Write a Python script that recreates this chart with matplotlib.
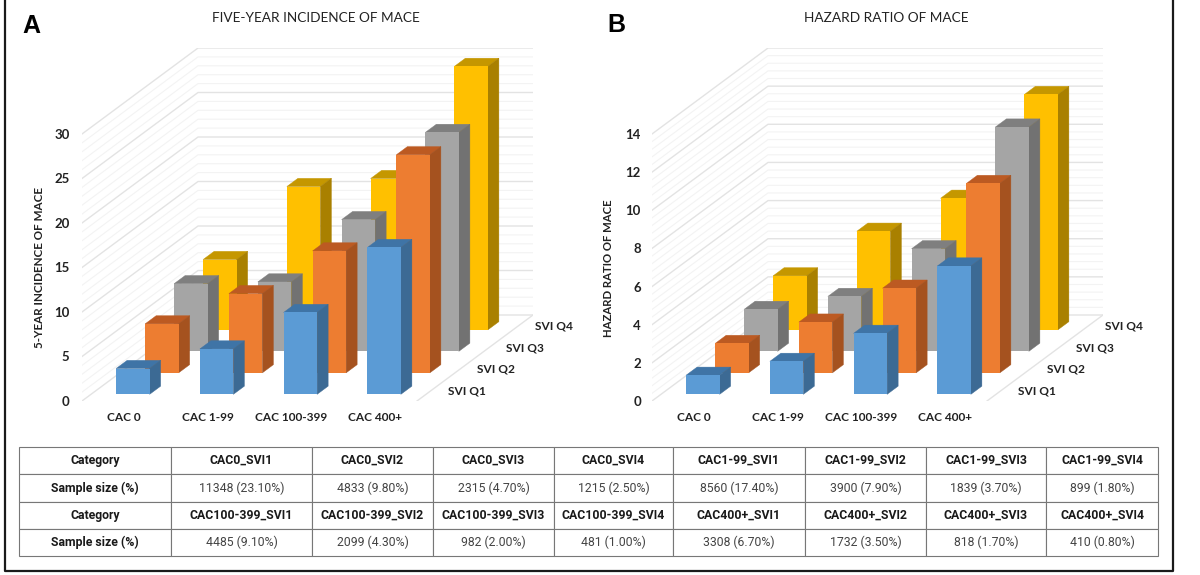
# -*- coding: utf-8 -*-
"""Two oblique 3D bar panels of MACE by CAC and SVI, with the sample size table below."""

import matplotlib
matplotlib.use('Agg')
import matplotlib.pyplot as plt

W, H = 1200, 575

plt.rcParams.update({
    'font.family': ['Lato', 'DejaVu Sans'],
    'font.size': 9,
    'figure.dpi': 100,
})

CATEGORIES = ['CAC 0', 'CAC 1-99', 'CAC 100-399', 'CAC 400+']
SERIES_NAMES = ['SVI Q1', 'SVI Q2', 'SVI Q3', 'SVI Q4']

# Panel A, 5-year incidence
INC_Q1 = [2.9, 5.1, 9.2, 16.5]
INC_Q2 = [5.5, 8.9, 13.7, 24.5]
INC_Q3 = [7.6, 7.8, 14.8, 24.6]
INC_Q4 = [7.9, 16.1, 17.0, 29.6]

# Panel B, hazard ratio
HR_Q1 = [1.0, 1.73, 3.2, 6.73]
HR_Q2 = [1.54, 2.66, 4.44, 9.93]
HR_Q3 = [2.2, 2.88, 5.38, 11.76]
HR_Q4 = [2.83, 5.17, 6.9, 12.34]

# Table rows
CATEGORY_ROW_1 = ['Category', 'CAC0_SVI1', 'CAC0_SVI2', 'CAC0_SVI3', 'CAC0_SVI4',
                  'CAC1-99_SVI1', 'CAC1-99_SVI2', 'CAC1-99_SVI3', 'CAC1-99_SVI4']
SAMPLE_ROW_1 = ['Sample size (%)', '11348 (23.10%)', '4833 (9.80%)', '2315 (4.70%)', '1215 (2.50%)',
                '8560 (17.40%)', '3900 (7.90%)', '1839 (3.70%)', '899 (1.80%)']
CATEGORY_ROW_2 = ['Category', 'CAC100-399_SVI1', 'CAC100-399_SVI2', 'CAC100-399_SVI3', 'CAC100-399_SVI4',
                  'CAC400+_SVI1', 'CAC400+_SVI2', 'CAC400+_SVI3', 'CAC400+_SVI4']
SAMPLE_ROW_2 = ['Sample size (%)', '4485 (9.10%)', '2099 (4.30%)', '982 (2.00%)', '481 (1.00%)',
                '3308 (6.70%)', '1732 (3.50%)', '818 (1.70%)', '410 (0.80%)']

# front, top, side colour per series
COLORS = [('#5B9BD5', '#3F74A6', '#3C6A94'),
          ('#ED7D31', '#BC5A22', '#A5521F'),
          ('#A5A5A5', '#7F7F7F', '#727272'),
          ('#FFC000', '#C59700', '#A98000')]

GRID_MAJOR = '#e3e3e3'
GRID_MINOR = '#f3f3f3'
TEXT = '#222222'

CAT_PX = 83.75      # one category, pixels
DEPTH_X_PX = 29.0   # one series of depth, pixels
DEPTH_Y_PX = 21.5
BAR_W = 0.40


def px_axes(fig, x0, y0, x1, y1):
    return fig.add_axes([x0 / W, 1 - y1 / H, (x1 - x0) / W, (y1 - y0) / H])


def draw_panel(fig, left_px, series, ymax, major, minor, ylabel, label_x, tick_pad, label_size):
    px_per_val = (401 - 134) / ymax
    dx = DEPTH_X_PX / CAT_PX
    dy = DEPTH_Y_PX / px_per_val
    n_cat = len(CATEGORIES)
    n_ser = len(series)
    x_front, x_right = -0.5, n_cat - 0.5

    ax = px_axes(fig, left_px, 401 - (ymax + n_ser * dy) * px_per_val,
                 left_px + (n_cat + n_ser * dx) * CAT_PX, 401)
    ax.set_xlim(x_front, x_right + n_ser * dx)
    ax.set_ylim(0, ymax + n_ser * dy)
    ax.patch.set_visible(False)
    for sp in ax.spines.values():
        sp.set_visible(False)

    # walls
    n_lines = int(round(ymax / minor))
    for k in range(n_lines + 1):
        v = k * minor
        is_major = abs(v / major - round(v / major)) < 1e-6
        col = GRID_MAJOR if is_major else GRID_MINOR
        lw = 1.0 if is_major else 0.8
        ax.plot([x_front, x_front + n_ser * dx, x_right + n_ser * dx],
                [v, v + n_ser * dy, v + n_ser * dy], color=col, lw=lw, zorder=1)
    ax.plot([x_right, x_right + n_ser * dx], [0, n_ser * dy], color=GRID_MAJOR, lw=1.0, zorder=1)

    # bars, back series first
    z = 2
    for s in range(n_ser - 1, -1, -1):
        front, top, side = COLORS[s]
        d0, d1 = s + 0.31, s + 0.69
        for i, val in enumerate(series[s]):
            xl = i + d0 * dx - BAR_W / 2
            xr = xl + BAR_W
            base = d0 * dy
            sx, sy = (d1 - d0) * dx, (d1 - d0) * dy
            ax.fill([xl, xl + sx, xr + sx, xr], [base + val, base + val + sy, base + val + sy, base + val],
                    facecolor=top, edgecolor=top, lw=0.3, zorder=z)
            ax.fill([xr, xr + sx, xr + sx, xr], [base, base + sy, base + val + sy, base + val],
                    facecolor=side, edgecolor=side, lw=0.3, zorder=z)
            ax.bar(xl, val, bottom=base, width=BAR_W, align='edge', color=front, lw=0, zorder=z)
            z += 1

    ax.set_yticks([k * major for k in range(int(round(ymax / major)) + 1)])
    ax.tick_params(axis='y', length=0, pad=tick_pad, labelsize=9.5, labelcolor=TEXT)
    ax.set_xticks(range(n_cat))
    ax.set_xticklabels(CATEGORIES)
    ax.tick_params(axis='x', length=0, pad=8, labelsize=8.6, labelcolor=TEXT)
    for t in ax.get_xticklabels() + ax.get_yticklabels():
        t.set_fontweight('bold')

    for s, name in enumerate(SERIES_NAMES):
        ax.text(x_right + (s + 1.06) * dx, (s + 0.47) * dy, name, ha='left', va='center',
                fontsize=8.6, fontweight='bold', color=TEXT)

    ax.set_ylabel(ylabel, fontsize=label_size, fontweight='bold', color=TEXT)
    ax.yaxis.set_label_coords((label_x - left_px) / (ax.get_position().width * W),
                              (401 - 268) / (ax.get_position().height * H))
    return ax


fig = plt.figure(figsize=(W / 100, H / 100), facecolor='white')

# outer frame, open at the top
bg = fig.add_axes([0, 0, 1, 1])
bg.set_xlim(0, W)
bg.set_ylim(H, 0)
bg.axis('off')
bg.plot([5, 5, 1173, 1173], [0, 571, 571, 0], color='#1a1a1a', lw=1.6, zorder=1)

draw_panel(fig, 82, [INC_Q1, INC_Q2, INC_Q3, INC_Q4], 30, 5, 1,
           '5-YEAR INCIDENCE OF MACE', 44.6, 9, 8.4)
draw_panel(fig, 652, [HR_Q1, HR_Q2, HR_Q3, HR_Q4], 14, 2, 0.4,
           'HAZARD RATIO OF MACE', 614.5, 8, 8.2)

fig.text(316 / W, 1 - 18 / H, 'FIVE-YEAR INCIDENCE OF MACE', ha='center', va='center',
         fontsize=9.8, color=TEXT)
fig.text(886 / W, 1 - 18 / H, 'HAZARD RATIO OF MACE', ha='center', va='center',
         fontsize=9.8, color=TEXT)
fig.text(22 / W, 1 - 33 / H, 'A', family='Liberation Sans', fontweight='bold', fontsize=18,
         ha='left', va='baseline', color='black')
fig.text(607 / W, 1 - 32 / H, 'B', family='Liberation Sans', fontweight='bold', fontsize=18,
         ha='left', va='baseline', color='black')

# table
col_px = [19, 171, 312, 433, 554, 673, 805, 926, 1046, 1158]
col_w = [(b - a) / (col_px[-1] - col_px[0]) for a, b in zip(col_px[:-1], col_px[1:])]
tax = px_axes(fig, col_px[0], 447, col_px[-1], 556)
tax.axis('off')
rows = [CATEGORY_ROW_1, SAMPLE_ROW_1, CATEGORY_ROW_2, SAMPLE_ROW_2]
table = tax.table(cellText=rows, colWidths=col_w, cellLoc='center', bbox=[0, 0, 1, 1])
table.auto_set_font_size(False)
for (r, c), cell in table.get_celld().items():
    cell.set_edgecolor('#777777')
    cell.set_linewidth(0.8)
    txt = cell.get_text()
    txt.set_fontfamily('Roboto')
    bold = r in (0, 2) or c == 0
    txt.set_fontweight('bold' if bold else 'normal')
    txt.set_color('#1a1a1a' if bold else '#444444')
    txt.set_fontsize(8.8)

fig.savefig('out.png', dpi=100)
plt.close()
